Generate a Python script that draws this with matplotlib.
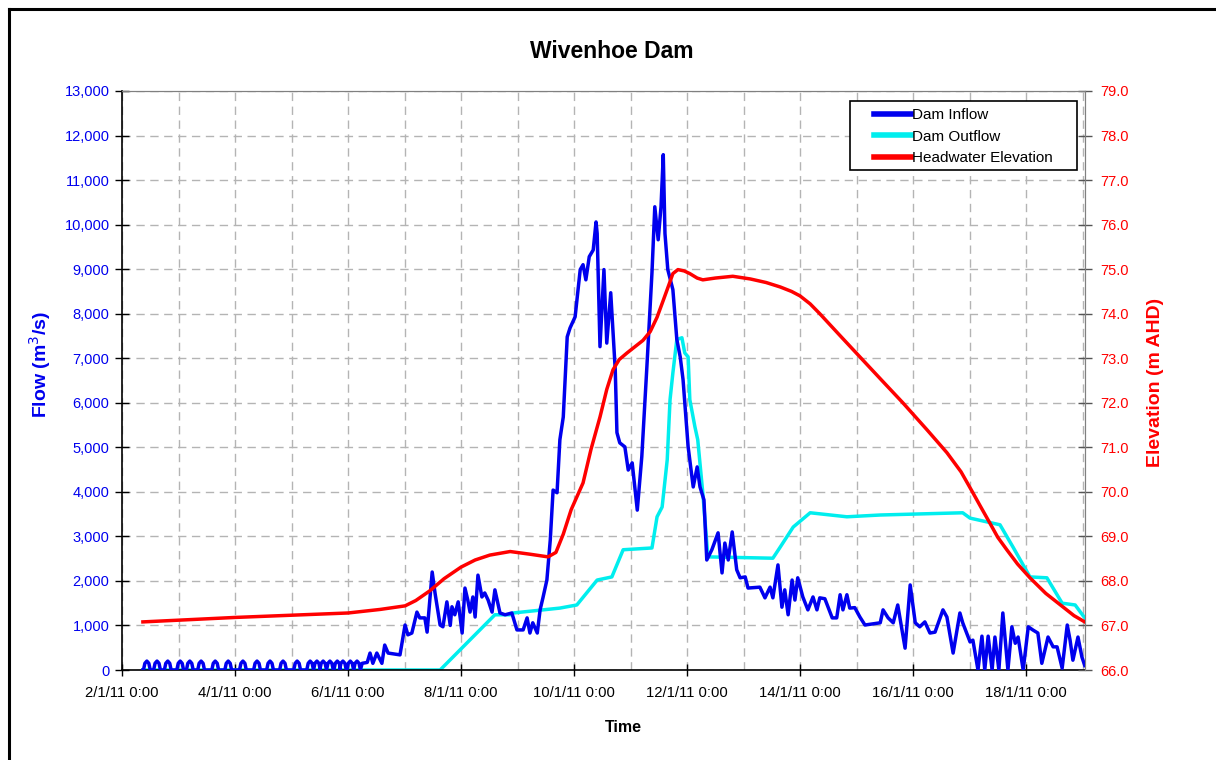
import matplotlib
matplotlib.use("Agg")
import numpy as np
import matplotlib.pyplot as plt
from matplotlib.lines import Line2D
from matplotlib.patches import Rectangle
from matplotlib.legend_handler import HandlerLine2D

plt.rcParams['font.family'] = ['Liberation Sans', 'DejaVu Sans']

# ---- data (days since 2/1/11 0:00) ----
inflow_bump_days = [0.44, 0.62, 0.81, 1.03, 1.20, 1.40, 1.65, 1.88, 2.14, 2.39, 2.62,
                    2.85, 3.10, 3.33, 3.45, 3.56, 3.68, 3.81, 3.91, 4.04, 4.16]
inflow_bump_peak = 200

inflow_days = [4.25, 4.34, 4.39, 4.44, 4.51, 4.60, 4.65, 4.71, 4.92, 5.01, 5.06, 5.13,
               5.22, 5.27, 5.36, 5.40, 5.49, 5.54, 5.63, 5.68, 5.75, 5.81, 5.84, 5.89,
               5.95, 6.02, 6.07, 6.12, 6.16, 6.21, 6.25, 6.30, 6.37, 6.42, 6.48, 6.55,
               6.60, 6.69, 6.78, 6.90, 6.99, 7.10, 7.17, 7.22, 7.27, 7.35, 7.40, 7.45,
               7.52, 7.58, 7.63, 7.70, 7.75, 7.81, 7.88, 7.93, 8.02, 8.11, 8.16, 8.21,
               8.27, 8.34, 8.39, 8.41, 8.46, 8.53, 8.58, 8.65, 8.73, 8.76, 8.81, 8.90,
               8.96, 9.03, 9.12, 9.20, 9.29, 9.38, 9.43, 9.49, 9.54, 9.58, 9.61, 9.66,
               9.75, 9.82, 9.88, 9.93, 10.02, 10.11, 10.18, 10.23, 10.30, 10.35, 10.44,
               10.55, 10.62, 10.67, 10.73, 10.80, 10.88, 10.94, 11.03, 11.08, 11.29,
               11.38, 11.47, 11.52, 11.61, 11.68, 11.73, 11.79, 11.86, 11.91, 11.96,
               12.05, 12.14, 12.23, 12.30, 12.35, 12.44, 12.57, 12.65, 12.71, 12.76,
               12.83, 12.88, 12.97, 13.06, 13.15, 13.42, 13.47, 13.56, 13.65, 13.73,
               13.86, 13.95, 14.04, 14.12, 14.21, 14.30, 14.39, 14.53, 14.60, 14.71,
               14.83, 14.88, 15.01, 15.06, 15.15, 15.22, 15.27, 15.33, 15.40, 15.45,
               15.52, 15.59, 15.68, 15.75, 15.81, 15.86, 15.95, 16.04, 16.12, 16.21,
               16.28, 16.39, 16.48, 16.55, 16.64, 16.73, 16.78, 16.83, 16.92, 16.99, 17.04]
inflow_vals = [150, 170, 380, 150, 380, 150, 560, 380, 340, 1010, 790, 830,
               1300, 1170, 1170, 850, 2200, 1730, 1010, 970, 1530, 1000, 1420, 1240,
               1530, 830, 1840, 1570, 1300, 1640, 1190, 2130, 1640, 1730, 1570, 1300,
               1800, 1280, 1240, 1280, 900, 900, 1170, 830, 1060, 830, 1350, 1620,
               2020, 2920, 4040, 3980, 5170, 5680, 7480, 7680, 7930, 8990, 9100, 8760,
               9280, 9430, 10060, 9800, 7260, 8990, 7340, 8470, 6740, 5330, 5100, 5010,
               4490, 4650, 3590, 4790, 6810, 8920, 10400, 9660, 10400, 11570, 9800, 8990,
               8540, 7420, 7030, 6520, 5010, 4110, 4560, 4110, 3820, 2470, 2700,
               3080, 2180, 2850, 2470, 3100, 2250, 2070, 2090, 1840, 1860,
               1620, 1860, 1620, 2360, 1410, 1800, 1240, 2020, 1570, 2070,
               1640, 1350, 1640, 1350, 1620, 1600, 1170, 1170, 1690, 1350,
               1690, 1390, 1400, 1190, 1010, 1060, 1350, 1170, 1060, 1460,
               490, 1910, 1060, 970, 1080, 830, 850, 1350, 1190, 380,
               1280, 1060, 630, 670, 0, 760, 0, 760, 0, 740,
               0, 1280, 0, 970, 600, 740, 0, 970, 900, 830,
               150, 740, 520, 520, 40, 1010, 670, 220, 740, 290, 100]

outflow_days = [0.37, 5.63, 6.60, 6.87, 6.92, 7.45, 7.75, 8.05, 8.41, 8.67, 8.87, 9.38,
                9.47, 9.56, 9.65, 9.70, 9.75, 9.82, 9.91, 9.96, 10.02, 10.05, 10.14,
                10.19, 10.28, 10.37, 11.52, 11.65, 11.88, 12.18, 12.83, 13.42, 14.00,
                14.88, 15.01, 15.54, 15.77, 16.07, 16.37, 16.64, 16.87, 17.04]
outflow_vals = [0, 0, 1240, 1240, 1280, 1350, 1390, 1460, 2020, 2090, 2700, 2740,
                3440, 3660, 4720, 6070, 6670, 7420, 7460, 7120, 7030, 6070, 5460,
                5170, 3970, 2540, 2510, 2760, 3210, 3530, 3440, 3480, 3500,
                3530, 3410, 3260, 2760, 2090, 2070, 1500, 1460, 1170]

elev_days = [0.37, 2.0, 4.0, 4.57, 5.01, 5.2, 5.45, 5.7, 6.0, 6.25, 6.51, 6.87, 7.22,
             7.54, 7.68, 7.81, 7.95, 8.16, 8.3, 8.46, 8.58, 8.69, 8.8, 8.94, 9.22, 9.35,
             9.47, 9.58, 9.68, 9.75, 9.84, 9.95, 10.05, 10.18, 10.28, 10.5, 10.81, 11.12,
             11.4, 11.65, 11.85, 12.0, 12.18, 12.35, 12.7, 13.06, 13.45, 13.82, 14.25,
             14.6, 14.85, 15.06, 15.2, 15.36, 15.5, 15.66, 15.85, 16.07, 16.35, 16.65,
             16.85, 17.04]
elev_vals = [67.08, 67.18, 67.28, 67.36, 67.44, 67.56, 67.78, 68.05, 68.31, 68.47,
             68.58, 68.66, 68.60, 68.54, 68.64, 69.05, 69.6, 70.2, 70.95, 71.68, 72.3,
             72.74, 72.97, 73.12, 73.4, 73.6, 73.92, 74.3, 74.65, 74.9, 74.99, 74.96,
             74.9, 74.8, 74.76, 74.8, 74.84, 74.78, 74.7, 74.6, 74.5, 74.4, 74.22, 74.0,
             73.52, 73.03, 72.5, 72.0, 71.39, 70.88, 70.45, 69.98, 69.66, 69.3, 68.98,
             68.7, 68.38, 68.07, 67.72, 67.42, 67.22, 67.08]

xtick_days = [0, 2, 4, 6, 8, 10, 12, 14, 16]
xtick_labels = ["2/1/11 0:00", "4/1/11 0:00", "6/1/11 0:00", "8/1/11 0:00",
                "10/1/11 0:00", "12/1/11 0:00", "14/1/11 0:00", "16/1/11 0:00",
                "18/1/11 0:00"]
flow_ticks = list(range(0, 13001, 1000))
elev_ticks = [66.0 + i for i in range(14)]
series_names = ["Dam Inflow", "Dam Outflow", "Headwater Elevation"]

# build full inflow series: small daily bumps then observed values
in_x = [0.37]
in_y = [0]
for d in inflow_bump_days:
    in_x += [d - 0.06, d - 0.035, d, d + 0.035, d + 0.06]
    in_y += [0, 150, inflow_bump_peak, 150, 0]
in_x += inflow_days
in_y += inflow_vals

BLUE = "#0000ee"
CYAN = "#00eeee"
RED = "#ff0000"

W, H = 1216, 760
L, R, T, B = 122, 1085, 91, 670

fig = plt.figure(figsize=(W/100, H/100), dpi=100)
ax = fig.add_axes([L/W, 1 - B/H, (R-L)/W, (B-T)/H])
ax2 = ax.twinx()

l1, = ax.plot(in_x, in_y, color=BLUE, lw=2.5, solid_joinstyle='round', zorder=3)
l2, = ax.plot(outflow_days, outflow_vals, color=CYAN, lw=2.5, zorder=2)
l3, = ax2.plot(elev_days, elev_vals, color=RED, lw=2.5, zorder=3)

xmax = (R - L) / 56.5
ax.set_xlim(0, xmax)
ax.set_ylim(0, 13000)
ax2.set_ylim(66, 79)

ax.set_xticks(xtick_days)
ax.set_xticklabels(xtick_labels, fontsize=10.7)
ax.set_xticks([d for d in range(1, 18)], minor=True)
ax.set_yticks(flow_ticks)
ax.set_yticklabels([f"{v:,}" for v in flow_ticks], fontsize=10.5, color=BLUE)
ax2.set_yticks(elev_ticks)
ax2.set_yticklabels([f"{v:.1f}" for v in elev_ticks], fontsize=10.5, color=RED)

ax.tick_params(axis='x', which='major', direction='inout', length=9, width=1, pad=7)
ax.tick_params(axis='x', which='minor', length=0)
ax.tick_params(axis='y', direction='inout', length=10, width=1, pad=4)
ax2.tick_params(axis='y', direction='inout', length=10, width=1, pad=6, color='#555555')

ax.grid(True, which='both', axis='x', color='#b4b4b4', linestyle=(0, (6, 4)), lw=1)
ax.grid(True, which='major', axis='y', color='#b4b4b4', linestyle=(0, (6, 4)), lw=1)
ax.set_axisbelow(True)

for s in ['left', 'bottom']:
    ax.spines[s].set_color('black')
    ax.spines[s].set_linewidth(1.2)
for s in ['top', 'right']:
    ax.spines[s].set_color('#808080')
    ax2.spines[s].set_color('#808080')
ax2.spines['left'].set_visible(False)
ax2.spines['bottom'].set_visible(False)

ax.set_ylabel("Flow (m$^3$/s)", color=BLUE, fontsize=14, fontweight='bold')
ax.yaxis.set_label_coords((53 - L) / (R - L), (B - 365) / (B - T))
ax2.set_ylabel("Elevation (m AHD)", color=RED, fontsize=14, fontweight='bold')
ax2.yaxis.set_label_coords((1147 - L) / (R - L), (B - 382) / (B - T))
fig.text(623/W, 1 - 728/H, "Time", ha='center', va='center', fontsize=11.5,
         fontweight='bold')
fig.text(612/W, 1 - 52/H, "Wivenhoe Dam", ha='center', va='center',
         fontsize=16.5, fontweight='bold')


class GapLine(HandlerLine2D):
    def create_artists(self, legend, orig_handle, xdescent, ydescent, width,
                       height, fontsize, trans):
        arts = super().create_artists(legend, orig_handle, xdescent, ydescent,
                                      width, height, fontsize, trans)
        for a in arts:
            xd = np.asarray(a.get_xdata(), dtype=float)
            if len(xd) >= 2:
                x0, x1 = xd.min(), xd.max()
                a.set_xdata(np.linspace(x0 + 0.31 * (x1 - x0), x1, len(xd)))
        return arts


# legend box
bx0 = (850 - L) / (R - L)
bx1 = (1077 - L) / (R - L)
by1 = (B - 101) / (B - T)
by0 = (B - 170) / (B - T)
box = Rectangle((bx0, by0), bx1 - bx0, by1 - by0, transform=ax2.transAxes,
                facecolor='white', edgecolor='black', lw=1.2, zorder=6)
ax2.add_patch(box)
leg = ax2.legend([l1, l2, l3], series_names, loc='upper left',
                 bbox_to_anchor=(bx0, by1), fontsize=11, frameon=False,
                 borderaxespad=0, borderpad=0.45, handlelength=3.55,
                 handletextpad=0.05, labelspacing=0.5,
                 handler_map={Line2D: GapLine()})
leg.set_zorder(7)
for h in leg.get_lines():
    h.set_linewidth(4)

# outer frame (left and top edges)
fig.add_artist(Line2D([9/W, 9/W], [0, 1 - 9/H], color='black', lw=2.2,
                      transform=fig.transFigure))
fig.add_artist(Line2D([9/W, 1], [1 - 9/H, 1 - 9/H], color='black', lw=2.2,
                      transform=fig.transFigure))

fig.savefig("out.png", dpi=100)
